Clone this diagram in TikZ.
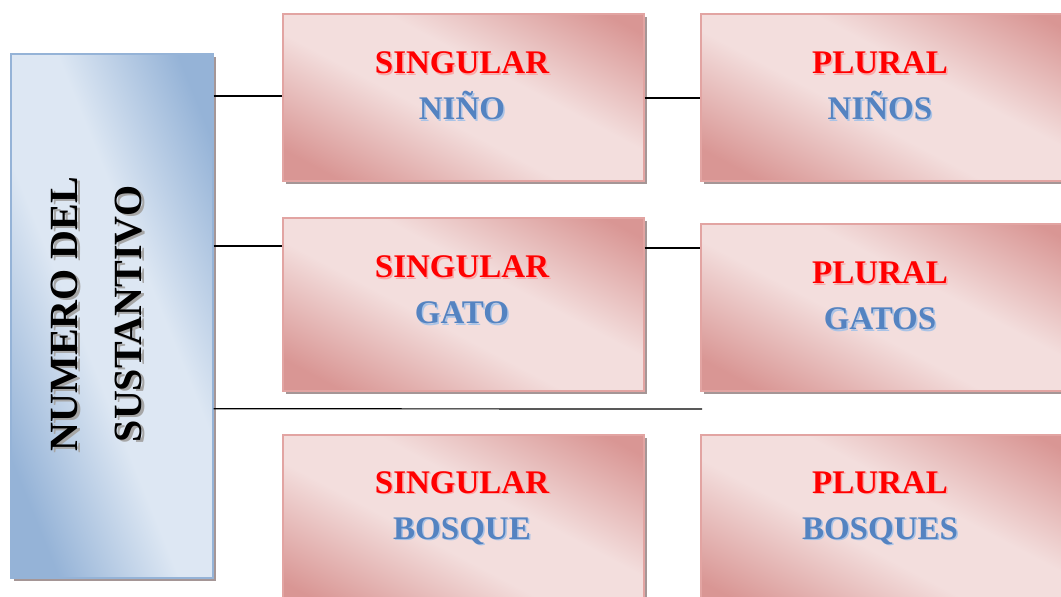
\documentclass[tikz,border=0pt]{standalone}
\usepackage{fontspec}
\setmainfont{Liberation Serif}
\usetikzlibrary{shadows,calc}
\definecolor{pdark}{RGB}{217,150,148}
\definecolor{plight}{RGB}{243,222,221}
\definecolor{bdark}{RGB}{149,179,215}
\definecolor{blight}{RGB}{221,231,243}
\definecolor{pborder}{RGB}{226,164,162}
\definecolor{bborder}{RGB}{149,179,215}
\definecolor{txtblue}{RGB}{84,131,193}
\definecolor{shadowgray}{RGB}{165,150,150}
\definecolor{redglow}{RGB}{250,170,170}
\definecolor{blueglow}{RGB}{170,195,230}
\pgfdeclarehorizontalshading{pinkshade}{100bp}{color(0bp)=(pdark); color(22bp)=(pdark); color(44bp)=(plight); color(58bp)=(plight); color(80bp)=(pdark); color(100bp)=(pdark)}
\pgfdeclarehorizontalshading{blueshade}{100bp}{color(0bp)=(bdark); color(25bp)=(bdark); color(44bp)=(blight); color(58bp)=(blight); color(77bp)=(bdark); color(100bp)=(bdark)}
\newcommand{\twolbl}[4]{%
  \node[lbl] at ($(#1)+(1.5,1.5)$) {\textcolor{redglow}{#2}\\\textcolor{blueglow}{#3}};
  \node[lbl] (#4) at (#1) {\textcolor{red}{#2}\\\textcolor{txtblue}{#3}};}
\begin{document}
\begin{tikzpicture}[x=1pt,y=-1pt,
  boxbase/.style={anchor=north west, inner sep=0pt, line width=1.5pt,
    drop shadow={shadow xshift=3pt, shadow yshift=-3pt, fill=shadowgray, opacity=1}},
  pinkbox/.style={boxbase, draw=pborder, shading=pinkshade, shading angle=62,
    minimum width=361pt},
  bluebox/.style={boxbase, draw=bborder, shading=blueshade, shading angle=22,
    minimum width=202pt, minimum height=524pt},
  lbl/.style={align=center, font=\bfseries\fontsize{33}{46}\selectfont},
  conn/.style={draw=black, line width=1.2pt}
]
\useasboundingbox (0,0) rectangle (1061,597);

% left box
\node[bluebox] (L) at (10,53) {};
\node[rotate=90, align=center, font=\bfseries\fontsize{40}{64}\selectfont, text=black!35] at (99.5,316) {NUMERO DEL\\SUSTANTIVO};
\node[rotate=90, align=center, font=\bfseries\fontsize{40}{64}\selectfont] (Lt) at (97,314) {NUMERO DEL\\SUSTANTIVO};

% boxes
\node[pinkbox, minimum height=167pt] (S1) at (282,13) {};
\node[pinkbox, minimum height=167pt, minimum width=375pt] (P1) at (700,13) {};
\node[pinkbox, minimum height=173pt] (S2) at (282,217) {};
\node[pinkbox, minimum height=167pt, minimum width=375pt] (P2) at (700,223) {};
\node[pinkbox, minimum height=180pt] (S3) at (282,434) {};
\node[pinkbox, minimum height=180pt, minimum width=375pt] (P3) at (700,434) {};

% labels
\twolbl{462,86}{SINGULAR}{NIÑO}{S1t}
\twolbl{880,86}{PLURAL}{NIÑOS}{P1t}
\twolbl{462,290}{SINGULAR}{GATO}{S2t}
\twolbl{880,296}{PLURAL}{GATOS}{P2t}
\twolbl{462,508}{SINGULAR}{BOSQUE}{S3t}
\twolbl{880,508}{PLURAL}{BOSQUES}{P3t}

% connectors
\coordinate (a1) at ($(S1.north west)+(0,83)$);
\coordinate (a2) at ($(S2.north west)+(0,29)$);
\coordinate (b1) at ($(P1.north west)+(0,85)$);
\coordinate (b2) at ($(P2.north west)+(0,25)$);
\coordinate (c3) at (702,409);
\draw[conn] (a1 -| L.east) -- (a1);
\draw[conn] (a2 -| L.east) -- (a2);
\draw[conn] (b1 -| S1.east) -- (b1);
\draw[conn] (b2 -| S2.east) -- (b2);
\draw[conn] ($(L.east)+(0,93)$) -- (c3);
\end{tikzpicture}
\end{document}
